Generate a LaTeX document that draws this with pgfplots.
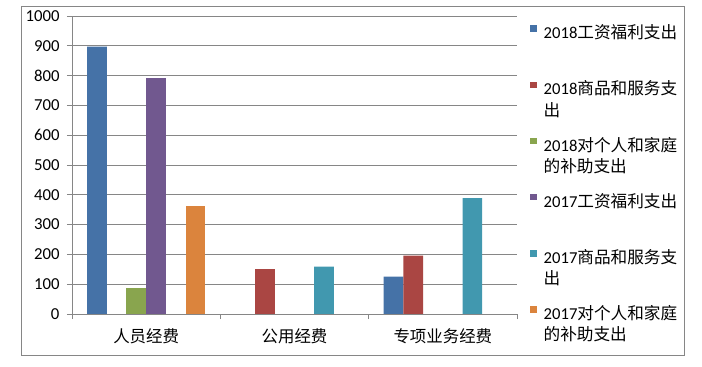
\documentclass[border=0pt]{standalone}
\usepackage{fontspec}
\setmainfont{Carlito}
\newfontfamily\cjk{Noto Sans CJK SC}
\usepackage{pgfplots}
\pgfplotsset{compat=1.18}
\definecolor{c1}{HTML}{4572A7}
\definecolor{c2}{HTML}{AA4643}
\definecolor{c3}{HTML}{89A54E}
\definecolor{c4}{HTML}{71588F}
\definecolor{c5}{HTML}{4198AF}
\definecolor{c6}{HTML}{DB843D}
\definecolor{axgray}{HTML}{868686}
\pgfplotsset{sq/.style={legend image code/.code={\fill[##1] (0bp,0bp) rectangle (6.5bp,6.5bp);}}}
\newcommand{\lentry}[2]{\begin{tabular}[t]{@{}l@{}}#1\\#2\end{tabular}}
\begin{document}
\begin{tikzpicture}
\useasboundingbox (-72bp,-53bp) rectangle (630bp,314bp);
\draw[axgray, line width=0.8bp] (-51bp,-41bp) rectangle (612bp,308bp);
\begin{axis}[
  at={(0,0)}, anchor=south west,
  scale only axis, width=445bp, height=298bp,
  ymin=0, ymax=1000, ytick={0,100,...,1000},
  xmin=-0.5, xmax=2.5,
  xtick={-0.5,0.5,1.5,2.5}, xticklabels={},
  extra x ticks={0,1,2},
  extra x tick labels={{\cjk 人员经费},{\cjk 公用经费},{\cjk 专项业务经费}},
  extra x tick style={major tick length=0pt, xticklabel style={yshift=-11bp, font=\fontsize{16.5}{19}\selectfont}},
  axis x line*=bottom, axis y line*=left,
  axis line style={axgray, line width=0.8bp, -},
  ymajorgrids, grid style={axgray, line width=0.8bp},
  tick style={axgray, line width=0.8bp},
  major tick length=5bp, tick align=outside,
  ybar=0pt, bar width=19.7bp,
  tick label style={font=\fontsize{16.8}{19}\selectfont, text=black},
  yticklabel style={xshift=-4bp},
  legend style={at={(rel axis cs:1,1)}, anchor=north west, xshift=13bp, yshift=-5.5bp,
    draw=none, fill=none, inner sep=0pt, row sep=35.7bp, column sep=5bp,
    font=\fontsize{16.7}{21.5}\selectfont},
  legend cell align=left,
  /pgf/number format/1000 sep={},
  /pgf/number format/assume math mode=true,
]
\addplot[fill=c1, draw=none, sq] coordinates {(0,897) (2,125)};
\addlegendentry{\lentry{2018{\cjk 工资福利支出}}{\strut}}
\addplot[fill=c2, draw=none, sq] coordinates {(1,151) (2,196)};
\addlegendentry{\lentry{2018{\cjk 商品和服务支}}{\cjk 出}}
\addplot[fill=c3, draw=none, sq] coordinates {(0,88)};
\addlegendentry{\lentry{2018{\cjk 对个人和家庭}}{\cjk 的补助支出}}
\addplot[fill=c4, draw=none, sq] coordinates {(0,792)};
\addlegendentry{\lentry{2017{\cjk 工资福利支出}}{\strut}}
\addplot[fill=c5, draw=none, sq] coordinates {(1,159) (2,389)};
\addlegendentry{\lentry{2017{\cjk 商品和服务支}}{\cjk 出}}
\addplot[fill=c6, draw=none, sq] coordinates {(0,362)};
\addlegendentry{\lentry{2017{\cjk 对个人和家庭}}{\cjk 的补助支出}}
\end{axis}
\end{tikzpicture}
\end{document}
